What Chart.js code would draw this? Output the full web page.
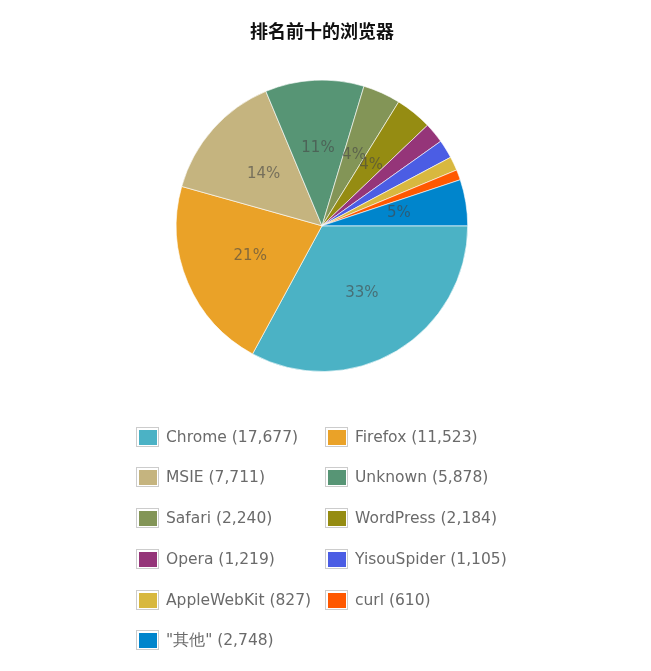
<!DOCTYPE html>
<html>
<head>
<meta charset="utf-8">
<script src="https://cdn.jsdelivr.net/npm/chart.js@4"></script>
<style>
  html, body { margin: 0; padding: 0; background: #fff; }
  #wrap { position: relative; width: 651px; height: 671px; }
  #chartBox { position: absolute; left: 0; top: 0; width: 644px; height: 372px; }
  #legend { position: absolute; left: 0; top: 0; width: 651px; height: 671px; font-family: "DejaVu Sans", Verdana, sans-serif; font-size: 15.5px; color: #6a6a6a; }
  .item { position: absolute; height: 20px; line-height: 20px; white-space: nowrap; }
  .box { position: absolute; left: 0; top: 0; width: 21px; height: 18px; border: 1px solid #ccc; background: #fff; }
  .box i { position: absolute; left: 2px; top: 2px; width: 18px; height: 15px; }
  .txt { position: absolute; left: 30px; top: 0; }
</style>
</head>
<body>
<div id="wrap">
  <div id="chartBox"><canvas id="c"></canvas></div>
  <div id="legend"></div>
</div>
<script>
const title = '排名前十的浏览器';
const categories = ['Chrome', 'Firefox', 'MSIE', 'Unknown', 'Safari', 'WordPress', 'Opera', 'YisouSpider', 'AppleWebKit', 'curl', '"其他"'];
const values = [17677, 11523, 7711, 5878, 2240, 2184, 1219, 1105, 827, 610, 2748];
const colors = ['#4bb2c5', '#EAA228', '#c5b47f', '#579575', '#839557', '#958c12', '#953579', '#4b5de4', '#d8b83f', '#ff5800', '#0085cc'];

const total = values.reduce((a, b) => a + b, 0);

const pctLabels = {
  id: 'pctLabels',
  afterDatasetsDraw(chart) {
    const ctx = chart.ctx;
    const meta = chart.getDatasetMeta(0);
    ctx.save();
    ctx.font = '15px "DejaVu Sans", Verdana, sans-serif';
    ctx.fillStyle = 'rgba(70,70,70,0.62)';
    ctx.textAlign = 'center';
    ctx.textBaseline = 'middle';
    meta.data.forEach((arc, i) => {
      const pct = values[i] / total * 100;
      if (pct < 3) return;
      const p = arc.getProps(['x', 'y', 'startAngle', 'endAngle', 'outerRadius'], true);
      const mid = (p.startAngle + p.endAngle) / 2;
      const r = p.outerRadius * 0.535;
      ctx.fillText(Math.round(pct) + '%', p.x + Math.cos(mid) * r, p.y + Math.sin(mid) * r);
    });
    ctx.restore();
  }
};

new Chart(document.getElementById('c'), {
  type: 'pie',
  data: {
    labels: categories,
    datasets: [{
      data: values,
      backgroundColor: colors,
      borderColor: 'rgba(255,255,255,0.6)',
      borderWidth: 1
    }]
  },
  options: {
    responsive: true,
    maintainAspectRatio: false,
    animation: false,
    rotation: 90,
    layout: { padding: 0 },
    plugins: {
      legend: { display: false },
      tooltip: { enabled: false },
      title: {
        display: true,
        text: title,
        color: '#111',
        font: { family: '"Noto Sans CJK SC", sans-serif', size: 18, weight: 'bold', lineHeight: 1.2 },
        padding: { top: 20, bottom: 38 }
      }
    }
  },
  plugins: [pctLabels]
});

// HTML legend built from the arrays
const legend = document.getElementById('legend');
const colX = [136, 325];
const rowY = [427, 467, 508, 549, 590, 630];
categories.forEach((name, i) => {
  const item = document.createElement('div');
  item.className = 'item';
  item.style.left = colX[i % 2] + 'px';
  item.style.top = rowY[Math.floor(i / 2)] + 'px';
  const box = document.createElement('div');
  box.className = 'box';
  const sw = document.createElement('i');
  sw.style.background = colors[i];
  box.appendChild(sw);
  const t = document.createElement('span');
  t.className = 'txt';
  t.textContent = name + ' (' + values[i].toLocaleString('en-US') + ')';
  item.appendChild(box);
  item.appendChild(t);
  legend.appendChild(item);
});
</script>
</body>
</html>
